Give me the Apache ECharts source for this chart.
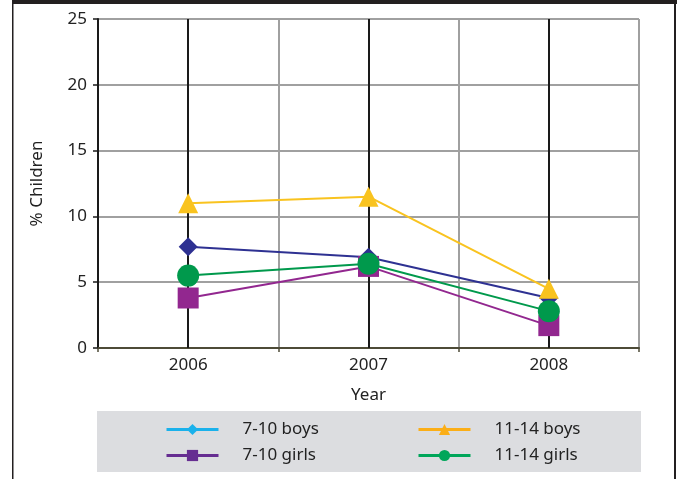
<!DOCTYPE html>
<html>
<head>
<meta charset="utf-8">
<script src="https://cdn.jsdelivr.net/npm/echarts@6/dist/echarts.min.js"></script>
<style>html,body{margin:0;padding:0;background:#fff}#c{width:678px;height:479px}</style>
</head>
<body>
<div id="c"></div>
<script>
const years = ['2006', '2007', '2008'];
const boys7to10 = [7.7, 6.9, 3.8];
const girls7to10 = [3.8, 6.2, 1.7];
const boys11to14 = [11.0, 11.5, 4.5];
const girls11to14 = [5.5, 6.4, 2.8];
const yTicks = [0, 5, 10, 15, 20, 25];

const FONT = 'Noto Sans';
const FS = 17;
const chart = echarts.init(document.getElementById('c'));

function mk(name, data, color, symbol, size) {
  return {
    name, type: 'line', data, symbol, symbolSize: size,
    lineStyle: { color, width: 2 }, itemStyle: { color },
    showAllSymbol: true, z: 5
  };
}

const legendItem = (name, color) => ({
  name, itemStyle: { color }, lineStyle: { color, width: 3 }
});

const legendBase = {
  orient: 'vertical', top: 421, itemWidth: 52, itemHeight: 14, itemGap: 9, padding: 0,
  textStyle: { fontSize: FS, color: '#222', padding: [0, 0, 0, 19], fontFamily: FONT }
};

chart.setOption({
  animation: false,
  backgroundColor: '#fff',
  textStyle: { fontFamily: FONT },
  grid: { left: 98, right: 39, top: 19, bottom: 131 },
  graphic: [
    { type: 'rect', shape: { x: 12, y: 0, width: 665, height: 4 }, style: { fill: '#231f20' } },
    { type: 'rect', shape: { x: 12, y: 0, width: 1.5, height: 479 }, style: { fill: '#231f20' } },
    { type: 'rect', shape: { x: 674, y: 0, width: 2, height: 479 }, style: { fill: '#231f20' } },
    { type: 'rect', z: -1, shape: { x: 97, y: 411, width: 544, height: 61 }, style: { fill: '#dcdde0' } }
  ],
  xAxis: [{
    type: 'category', data: years, boundaryGap: true,
    name: 'Year', nameLocation: 'middle', nameGap: 39,
    nameTextStyle: { fontSize: FS, color: '#222', fontFamily: FONT },
    axisLine: { lineStyle: { color: '#4d4b37', width: 2 } },
    axisTick: { show: true, length: 4, lineStyle: { color: '#4d4b37', width: 1.5 } },
    axisLabel: { fontSize: FS, color: '#222', margin: 9, fontFamily: FONT },
    splitLine: { show: true, lineStyle: { color: '#a0a0a0', width: 2 } }
  }, {
    type: 'category', data: years, boundaryGap: true, position: 'bottom',
    axisLine: { show: false },
    axisTick: { show: true, inside: true, alignWithLabel: true, length: 329, lineStyle: { color: '#1a1a1a', width: 2 } },
    axisLabel: { show: false },
    splitLine: { show: false }
  }],
  yAxis: {
    type: 'value', min: 0, max: 25, interval: 5,
    name: '% Children', nameLocation: 'middle', nameGap: 52, nameRotate: 90,
    nameTextStyle: { fontSize: FS, color: '#222', fontFamily: FONT },
    axisLine: { show: true, lineStyle: { color: '#1a1a1a', width: 2 } },
    axisTick: { show: true, length: 5, lineStyle: { color: '#1a1a1a', width: 1.5 } },
    axisLabel: { fontSize: FS, color: '#222', margin: 11, fontFamily: FONT,
      formatter: v => yTicks.includes(v) ? String(v) : '' },
    splitLine: { show: true, lineStyle: { color: '#a0a0a0', width: 2 } }
  },
  legend: [
    Object.assign({}, legendBase, { left: 165,
      data: [legendItem('7-10 boys', '#1ab1eb'), legendItem('7-10 girls', '#662d91')] }),
    Object.assign({}, legendBase, { left: 417,
      data: [legendItem('11-14 boys', '#fbae17'), legendItem('11-14 girls', '#00a65a')] })
  ],
  series: [
    mk('7-10 boys', boys7to10, '#2e3192', 'diamond', 19),
    mk('7-10 girls', girls7to10, '#92278f', 'rect', 21),
    mk('11-14 boys', boys11to14, '#f9c31f', 'triangle', 20),
    mk('11-14 girls', girls11to14, '#00994c', 'circle', 22)
  ]
});
</script>
</body>
</html>
